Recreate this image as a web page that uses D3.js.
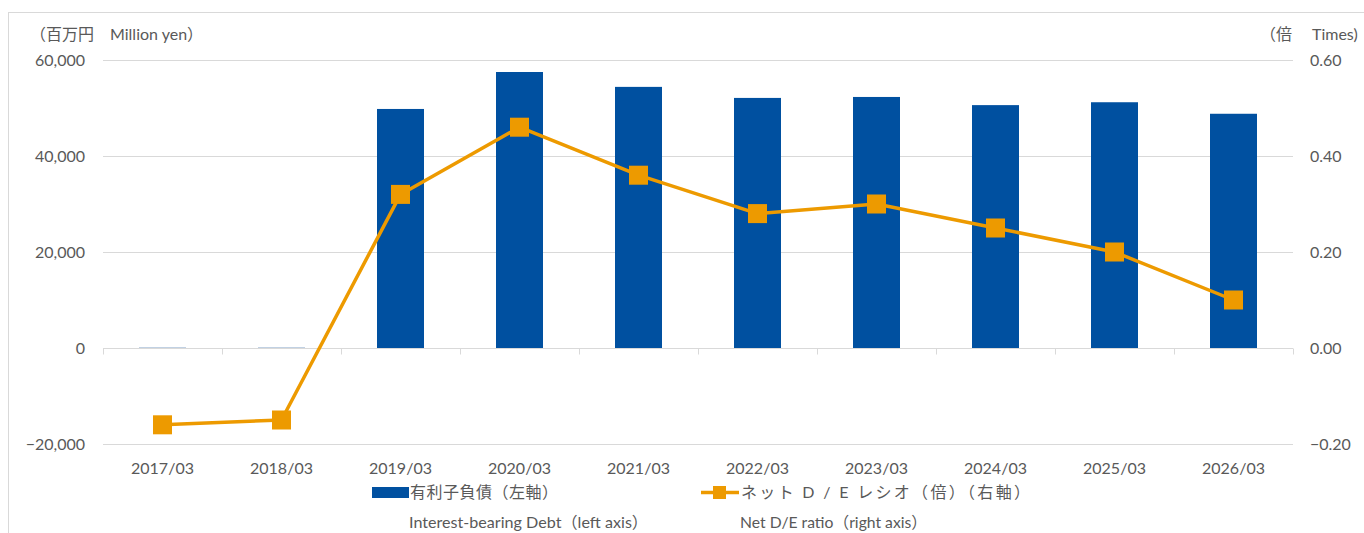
<!DOCTYPE html>
<html><head><meta charset="utf-8">
<script src="https://cdn.jsdelivr.net/npm/d3@7"></script>
<style>
body{margin:0;background:#fff;}
text{font-family:Lato,"Noto Sans CJK JP",sans-serif;fill:#595959;}
</style></head><body>
<svg id="c" width="1364" height="533"></svg>
<script>
const categories=["2017/03","2018/03","2019/03","2020/03","2021/03","2022/03","2023/03","2024/03","2025/03","2026/03"];
const debt=[150,150,49800,57500,54400,52100,52300,50600,51200,48800];
const ratio=[-0.16,-0.15,0.32,0.46,0.36,0.28,0.30,0.25,0.20,0.10];
const leftTicks=[-20000,0,20000,40000,60000];
const rightTicks=[-0.2,0,0.2,0.4,0.6];

const svg=d3.select("#c");
const L=103,R=1293,T=60,B=444;
svg.append("rect").attr("x",8.5).attr("y",12.5).attr("width",1370).attr("height",540)
  .attr("fill","none").attr("stroke","#d9d9d9");
const x=d3.scaleBand().domain(categories).range([L,R]).paddingInner(0).paddingOuter(0);
const yL=d3.scaleLinear().domain([-20000,60000]).range([B,T]);
const yR=d3.scaleLinear().domain([-0.2,0.6]).range([B,T]);

// gridlines
svg.append("g").selectAll("line").data(leftTicks.filter(d=>d!==0)).join("line")
  .attr("x1",L).attr("x2",R).attr("y1",d=>yL(d)+0.5).attr("y2",d=>yL(d)+0.5)
  .attr("stroke","#d9d9d9").attr("stroke-width",1);

// left axis labels
svg.append("g").selectAll("text").data(leftTicks).join("text")
  .attr("x",85).attr("y",d=>yL(d)+6).attr("text-anchor","end").attr("font-size",16)
  .text(d=>d3.format(",")(d));
// right axis labels
svg.append("g").selectAll("text").data(rightTicks).join("text")
  .attr("x",1310).attr("y",d=>yR(d)+6).attr("text-anchor","start").attr("font-size",16)
  .text(d=>d3.format(".2f")(d));

// bars
const bw=47;
svg.append("g").selectAll("rect").data(debt).join("rect")
  .attr("x",(d,i)=>x(categories[i])+x.bandwidth()/2-bw/2)
  .attr("width",bw)
  .attr("y",d=>yL(d))
  .attr("height",d=>Math.max(1,yL(0)-yL(d)))
  .attr("fill",(d,i)=>d<1000?"#a9bfd9":"#0050a0");

// category axis at 0
const zeroY=yL(0)+0.5;
svg.append("line").attr("x1",L).attr("x2",R).attr("y1",zeroY).attr("y2",zeroY).attr("stroke","#d9d9d9");
const bounds=categories.map(c=>x(c)).concat([R]);
svg.append("g").selectAll("line").data(bounds).join("line")
  .attr("x1",d=>Math.round(d)+0.5).attr("x2",d=>Math.round(d)+0.5)
  .attr("y1",zeroY).attr("y2",zeroY+6).attr("stroke","#d9d9d9");

// category labels
svg.append("g").selectAll("text").data(categories).join("text")
  .attr("x",d=>x(d)+x.bandwidth()/2).attr("y",474).attr("text-anchor","middle").attr("font-size",16)
  .text(d=>d);

// line
const line=d3.line().x((d,i)=>x(categories[i])+x.bandwidth()/2).y(d=>yR(d));
svg.append("path").datum(ratio).attr("d",line).attr("fill","none")
  .attr("stroke","#ed9a00").attr("stroke-width",3.5).attr("stroke-linejoin","round");
const ms=19;
svg.append("g").selectAll("rect").data(ratio).join("rect")
  .attr("x",(d,i)=>x(categories[i])+x.bandwidth()/2-ms/2)
  .attr("y",d=>yR(d)-ms/2).attr("width",ms).attr("height",ms).attr("fill","#ed9a00");

// unit labels
svg.append("text").attr("x",30).attr("y",40).attr("font-size",16).text("（百万円　Million yen）");
svg.append("text").attr("x",1260).attr("y",40).attr("font-size",16).text("（倍");
svg.append("text").attr("x",1312).attr("y",40).attr("font-size",16).text("Times)");

// legend
svg.append("rect").attr("x",372).attr("y",487).attr("width",37).attr("height",11).attr("fill","#0050a0");
svg.append("text").attr("x",410).attr("y",498).attr("font-size",16).attr("fill","#404040")
  .attr("textLength",148).attr("lengthAdjust","spacing").text("有利子負債（左軸）");
svg.append("line").attr("x1",701).attr("x2",739).attr("y1",492.5).attr("y2",492.5).attr("stroke","#ed9a00").attr("stroke-width",3.5);
svg.append("rect").attr("x",713).attr("y",486).attr("width",13).attr("height",13).attr("fill","#ed9a00");
svg.append("text").attr("x",741).attr("y",498).attr("font-size",16)
  .attr("textLength",289).attr("lengthAdjust","spacing").text("ネット D / E レシオ（倍）（右軸）");
svg.append("text").attr("x",409).attr("y",528).attr("font-size",16).attr("fill","#000")
  .attr("textLength",239).attr("lengthAdjust","spacingAndGlyphs").text("Interest-bearing Debt（left axis）");
svg.append("text").attr("x",740).attr("y",528).attr("font-size",16).attr("fill","#000")
  .attr("textLength",187).attr("lengthAdjust","spacingAndGlyphs").text("Net D/E ratio（right axis）");
</script></body></html>
